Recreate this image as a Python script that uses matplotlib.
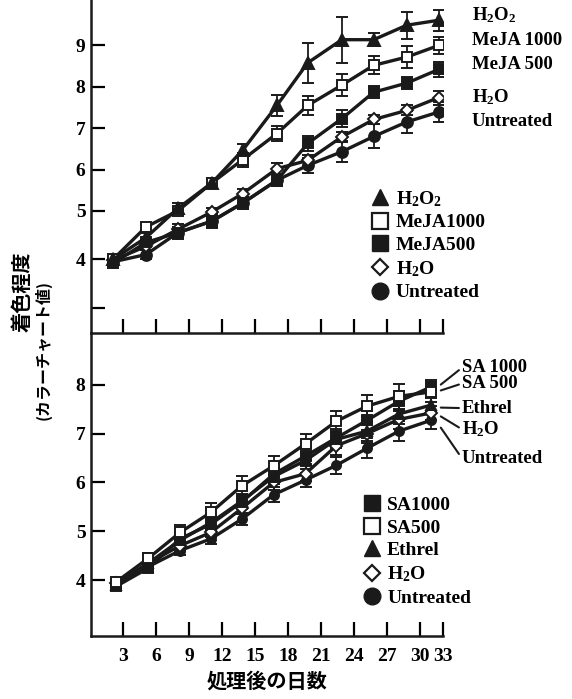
import numpy as np
import matplotlib
matplotlib.use('Agg')
import matplotlib.pyplot as plt
from matplotlib.lines import Line2D

plt.rcParams['font.family'] = ['Liberation Serif', 'Noto Sans CJK JP']
plt.rcParams['font.weight'] = 'bold'
plt.rcParams['mathtext.fontset'] = 'custom'
plt.rcParams['mathtext.rm'] = 'Liberation Serif:bold'
plt.rcParams['mathtext.it'] = 'Liberation Serif:bold'
plt.rcParams['mathtext.bf'] = 'Liberation Serif:bold'

# ---------------- data ----------------
days_top = [2.1, 5.1, 8.0, 11.1, 13.9, 17.0, 19.8, 22.9, 25.8, 28.8, 31.7]
h2o2 = [4.00, 4.45, 5.06, 5.68, 6.47, 7.55, 8.58, 9.14, 9.14, 9.49, 9.61]
h2o2_err = [0.05, 0.10, 0.12, 0.10, 0.15, 0.26, 0.49, 0.56, 0.15, 0.33, 0.25]
meja1000 = [4.00, 4.67, 5.00, 5.68, 6.24, 6.87, 7.55, 8.04, 8.52, 8.72, 9.00]
meja1000_err = [0.04, 0.06, 0.08, 0.10, 0.17, 0.19, 0.23, 0.26, 0.22, 0.26, 0.21]
meja500 = [3.92, 4.35, 4.55, 4.79, 5.19, 5.74, 6.63, 7.23, 7.87, 8.09, 8.42]
meja500_err = [0.04, 0.08, 0.10, 0.12, 0.12, 0.14, 0.17, 0.21, 0.14, 0.15, 0.18]
h2o_top = [3.98, 4.27, 4.62, 4.98, 5.42, 6.02, 6.22, 6.79, 7.21, 7.43, 7.74]
h2o_top_err = [0.04, 0.08, 0.10, 0.10, 0.10, 0.13, 0.13, 0.12, 0.12, 0.12, 0.17]
untr_top = [3.95, 4.10, 4.55, 4.79, 5.19, 5.74, 6.10, 6.43, 6.80, 7.15, 7.39]
untr_top_err = [0.04, 0.10, 0.12, 0.14, 0.14, 0.14, 0.18, 0.25, 0.29, 0.26, 0.24]

days_bot = [2.4, 5.3, 8.2, 11.0, 13.8, 16.7, 19.6, 22.4, 25.2, 28.1, 31.0]
sa1000 = [3.88, 4.25, 4.85, 5.15, 5.60, 6.17, 6.54, 6.91, 7.27, 7.66, 7.95]
sa1000_err = [0.04, 0.08, 0.10, 0.12, 0.14, 0.15, 0.17, 0.18, 0.20, 0.20, 0.15]
sa500 = [3.97, 4.45, 4.98, 5.39, 5.93, 6.34, 6.79, 7.25, 7.56, 7.76, 7.85]
sa500_err = [0.04, 0.10, 0.16, 0.20, 0.20, 0.20, 0.20, 0.22, 0.22, 0.25, 0.20]
ethrel = [3.90, 4.35, 4.82, 5.18, 5.62, 6.12, 6.45, 6.88, 7.05, 7.40, 7.58]
ethrel_err = [0.04, 0.08, 0.10, 0.12, 0.14, 0.15, 0.17, 0.18, 0.20, 0.20, 0.15]
h2o_bot = [3.95, 4.35, 4.71, 4.98, 5.47, 6.00, 6.18, 6.75, 7.00, 7.29, 7.42]
h2o_bot_err = [0.04, 0.08, 0.10, 0.10, 0.12, 0.15, 0.15, 0.18, 0.20, 0.20, 0.15]
untr_bot = [3.90, 4.28, 4.61, 4.85, 5.25, 5.75, 6.05, 6.35, 6.70, 7.05, 7.27]
untr_bot_err = [0.04, 0.08, 0.10, 0.10, 0.12, 0.15, 0.15, 0.18, 0.20, 0.20, 0.18]

xtick_pos = [3, 6, 9, 12, 15, 18, 21, 24, 27, 30, 32.1]
xtick_labels = ['3', '6', '9', '12', '15', '18', '21', '24', '27', '30', '33']
top_yticks = [3, 4, 5, 6, 7, 8, 9]
top_yticklabels = ['', '4', '5', '6', '7', '8', '9']
bot_yticks = [4, 5, 6, 7, 8]

top_names = ['H$_2$O$_2$', 'MeJA1000', 'MeJA500', 'H$_2$O', 'Untreated']
top_end_labels = ['H$_2$O$_2$', 'MeJA 1000', 'MeJA 500', 'H$_2$O', 'Untreated']
bot_names = ['SA1000', 'SA500', 'Ethrel', 'H$_2$O', 'Untreated']
bot_end_labels = ['SA 1000', 'SA 500', 'Ethrel', 'H$_2$O', 'Untreated']

# ---------------- figure ----------------
fig = plt.figure(figsize=(5.72, 6.99), dpi=100)
L, R = 91 / 572, 443 / 572
ax1 = fig.add_axes([L, 366.3 / 699, R - L, 332.7 / 699])
ax2 = fig.add_axes([L, 63.3 / 699, R - L, 303 / 699])

k = 48.6 / 41.4
def fwd(v):
    v = np.asarray(v, dtype=float)
    return np.where(v >= 5, v, 5 + (v - 5) * k)
def inv(u):
    u = np.asarray(u, dtype=float)
    return np.where(u >= 5, u, 5 + (u - 5) / k)
ax1.set_yscale('function', functions=(fwd, inv))

black = '#1a1a1a'
lw = 2.4
ms = 7.8
def series(ax, x, y, e, marker, filled, msz=ms):
    ax.errorbar(x, y, yerr=e, color=black, lw=lw, elinewidth=1.3, capsize=4,
                capthick=1.3, marker=marker, ms=msz,
                mfc=black if filled else 'white', mec=black, mew=1.4, zorder=3)

series(ax1, days_top, untr_top, untr_top_err, 'o', True)
series(ax1, days_top, h2o_top, h2o_top_err, 'D', False, 6)
series(ax1, days_top, meja500, meja500_err, 's', True)
series(ax1, days_top, meja1000, meja1000_err, 's', False)
series(ax1, days_top, h2o2, h2o2_err, '^', True, 8.5)

series(ax2, days_bot, untr_bot, untr_bot_err, 'o', True, 6.5)
series(ax2, days_bot, h2o_bot, h2o_bot_err, 'D', False, 6)
series(ax2, days_bot, ethrel, ethrel_err, '^', True)
series(ax2, days_bot, sa1000, sa1000_err, 's', True)
series(ax2, days_bot, sa500, sa500_err, 's', False)

for ax in (ax1, ax2):
    ax.set_xlim(0.1, 32.1)
    ax.set_xticks(xtick_pos)
    ax.tick_params(direction='in', length=10, width=1.6, labelsize=14, pad=4)
    for s in ax.spines.values():
        s.set_linewidth(1.8)
        s.set_color(black)
    ax.spines['right'].set_visible(False)
    ax.patch.set_alpha(0)

ax1.set_ylim(2.49, 10.1)
ax1.set_yticks(top_yticks)
ax1.set_yticklabels(top_yticklabels)
ax1.set_xticklabels([])
ax1.spines['top'].set_visible(False)
ax1.spines['bottom'].set_visible(False)

ax2.set_ylim(2.87, 9.06)
ax2.set_yticks(bot_yticks)
ax2.set_xticklabels(xtick_labels)
ax2.tick_params(axis='x', pad=9)
ax2.set_xlabel('処理後の日数', fontsize=14.5, family=['Noto Sans CJK JP'],
               fontweight='bold', labelpad=4)

# legends
def make_handles():
    return [Line2D([], [], ls='none', marker='^', ms=12, mfc=black, mec=black),
            Line2D([], [], ls='none', marker='s', ms=11, mfc='white', mec=black, mew=1.6),
            Line2D([], [], ls='none', marker='s', ms=11, mfc=black, mec=black),
            Line2D([], [], ls='none', marker='D', ms=8.5, mfc='white', mec=black, mew=1.6),
            Line2D([], [], ls='none', marker='o', ms=12, mfc=black, mec=black)]

h = make_handles()
ax1.legend(h, top_names, loc='upper left', bbox_to_anchor=(0.80, 0.432),
           frameon=False, fontsize=14, handlelength=0.8, handletextpad=0.4,
           labelspacing=0.26, borderpad=0, borderaxespad=0)
hb = make_handles()
hb = [hb[2], hb[1], hb[0], hb[3], hb[4]]
ax2.legend(hb, bot_names, loc='upper left', bbox_to_anchor=(0.775, 0.46),
           frameon=False, fontsize=14, handlelength=0.8, handletextpad=0.4,
           labelspacing=0.26, borderpad=0, borderaxespad=0)

# end labels top
top_label_y = [9.73, 9.12, 8.54, 7.75, 7.17]
for lab, yv in zip(top_end_labels, top_label_y):
    ax1.text(34.7, yv, lab, fontsize=13.5, ha='left', va='center', clip_on=False)

# end labels bottom with leader lines
bot_last = [sa1000[-1], sa500[-1], ethrel[-1], h2o_bot[-1], untr_bot[-1]]
bot_start_off = [0.05, 0.03, -0.05, -0.07, -0.15]
bot_label_y = [8.34, 8.02, 7.52, 7.09, 6.50]
for lab, yl, yv, off in zip(bot_end_labels, bot_last, bot_label_y, bot_start_off):
    ax2.annotate(lab, xy=(days_bot[-1] + 0.9, yl + off), xytext=(33.8, yv),
                 fontsize=13.5, ha='left', va='center', annotation_clip=False,
                 arrowprops=dict(arrowstyle='-', color=black, lw=1.5,
                                 shrinkA=0, shrinkB=0, relpos=(0, 0.5)))

# y label
fig.text(22 / 572, 1 - 292 / 699, '着色程度', rotation=90, fontsize=14.5,
         family=['Noto Sans CJK JP'], fontweight='bold', ha='center', va='center')
fig.text(43 / 572, 1 - 350 / 699, '(カラーチャート値)', rotation=90, fontsize=11.5,
         family=['Noto Sans CJK JP'], fontweight='bold', ha='center', va='center')

fig.savefig('out.png', dpi=100)
